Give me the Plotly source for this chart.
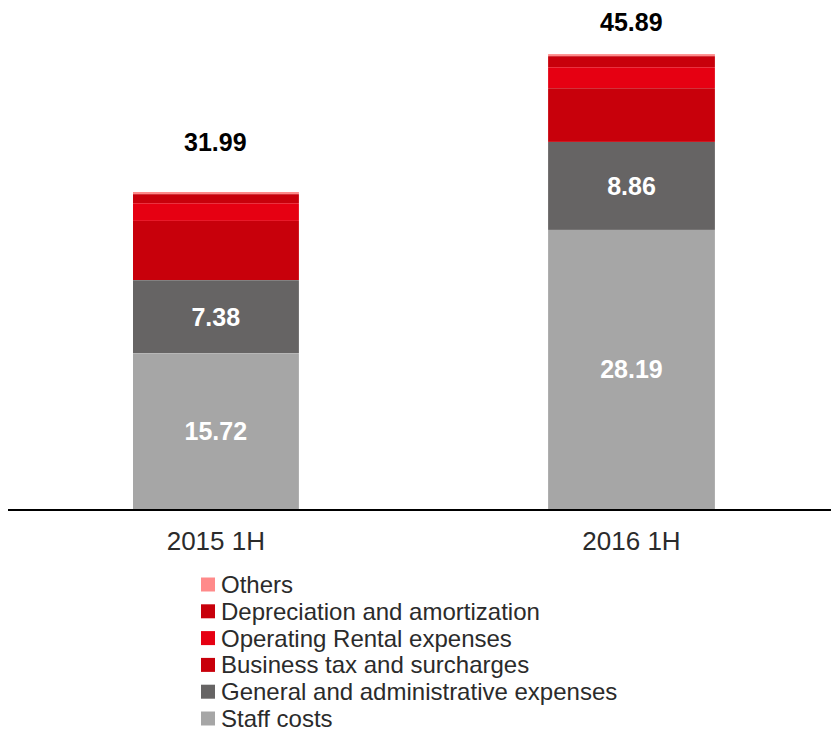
import plotly.graph_objects as go

# Half-year operating expenses, broken down by cost type (RMB bn)
periods = ["2015 1H", "2016 1H"]
series_names = [
    "Staff costs",
    "General and administrative expenses",
    "Business tax and surcharges",
    "Operating Rental expenses",
    "Depreciation and amortization",
    "Others",
]
staff_costs = [15.72, 28.19]
general_admin = [7.38, 8.86]
business_tax = [6.00, 5.42]
operating_rental = [1.75, 2.08]
depreciation = [0.92, 1.12]
others = [0.22, 0.22]
totals = [31.99, 45.89]

series_values = [staff_costs, general_admin, business_tax,
                 operating_rental, depreciation, others]
series_colors = ["#A6A6A6", "#666464", "#C8000B", "#E60012", "#C8000B", "#FF8A8A"]
labelled_series = {"Staff costs", "General and administrative expenses"}

W, H = 831, 732
M_L, M_R, M_T, M_B = 8, 0, 0, 223
plot_w = W - M_L - M_R
plot_h = H - M_T - M_B
Y_MAX = 51.36

fig = go.Figure()
for name, vals, color in zip(series_names, series_values, series_colors):
    show_text = name in labelled_series
    fig.add_trace(go.Bar(
        x=periods,
        y=vals,
        name=name,
        width=0.4,
        marker=dict(color=color, line=dict(width=0.5, color="rgba(255,255,255,0.2)")),
        text=[f"{v:.2f}" for v in vals] if show_text else None,
        textposition="inside" if show_text else "none",
        insidetextanchor="middle",
        textangle=0,
        textfont=dict(family="Liberation Sans, Arial", size=25, color="white", weight="bold"),
        hoverinfo="x+y+name",
    ))

# Totals above each stack
total_label_lift_px = [34, 16]
annotations = []
for p, t, lift in zip(periods, totals, total_label_lift_px):
    annotations.append(dict(
        x=p, y=t, xref="x", yref="y", text=f"{t:.2f}", showarrow=False,
        yanchor="bottom", yshift=lift,
        font=dict(family="Liberation Sans, Arial", size=25, color="black", weight="bold"),
    ))

# Legend drawn as a compact list beneath the axis, top entry = top of the stack
def px_to_paper(px, py):
    return (px - M_L) / plot_w, (H - M_B - py) / plot_h

shapes = []
legend_top_px = 584.5
legend_step_px = 26.8
box = 14
for i, (name, color) in enumerate(zip(reversed(series_names), reversed(series_colors))):
    cy = legend_top_px + i * legend_step_px
    x0, y0 = px_to_paper(201, cy + box / 2)
    x1, y1 = px_to_paper(201 + box, cy - box / 2)
    shapes.append(dict(type="rect", xref="paper", yref="paper",
                       x0=x0, y0=y0, x1=x1, y1=y1,
                       fillcolor=color, line=dict(width=0)))
    tx, ty = px_to_paper(220, cy)
    annotations.append(dict(
        x=tx, y=ty, xref="paper", yref="paper", text=name, showarrow=False,
        xanchor="left", yanchor="middle", borderpad=0,
        font=dict(family="Liberation Sans, Arial", size=24, color="#2B2B2B"),
    ))

fig.update_layout(
    width=W, height=H,
    margin=dict(l=M_L, r=M_R, t=M_T, b=M_B),
    barmode="stack",
    showlegend=False,
    plot_bgcolor="white",
    paper_bgcolor="white",
    annotations=annotations,
    shapes=shapes,
    xaxis=dict(
        range=[-0.5, 1.48],
        showline=True, linecolor="black", linewidth=2,
        showgrid=False, ticks="",
        tickfont=dict(family="Liberation Sans, Arial", size=26, color="#2B2B2B"),
        ticklabelstandoff=8,
    ),
    yaxis=dict(range=[0, Y_MAX], visible=False, showgrid=False, zeroline=False),
)

fig.write_html("out.html")
